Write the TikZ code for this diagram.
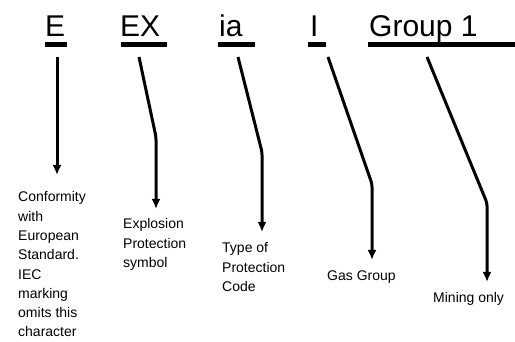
\documentclass[tikz,border=0pt]{standalone}
\usepackage{fontspec}
\setmainfont{Liberation Sans}
\usetikzlibrary{arrows.meta}
\begin{document}
\begin{tikzpicture}[x=1pt,y=-1pt,
  code/.style={anchor=base west,inner sep=0pt,font=\fontsize{30}{36}\selectfont},
  uline/.style={line width=5pt},
  conn/.style={line width=3pt,rounded corners=3pt,-{Latex[length=10pt,width=9pt]}},
  lbl/.style={anchor=north west,inner sep=0pt,align=left,font=\fontsize{14}{19.3}\selectfont}]
\useasboundingbox (0,0) rectangle (515,342);
% top codes
\node[code] (e) at (45,37) {E};
\node[code] (ex) at (120,37) {EX};
\node[code] (ia) at (219,37) {ia};
\node[code] (i) at (310,37) {I};
\node[code] (g) at (369,37) {Group 1};
\draw[uline] (45,45) -- (67,45);
\draw[uline] (121,45) -- (167,45);
\draw[uline] (218,45) -- (255,45);
\draw[uline] (308,45) -- (326,45);
\draw[uline] (368,45) -- (515,45);
% labels
\node[lbl] (l1) at (18,191.5) {Conformity\\with\\European\\Standard.\\IEC\\marking\\omits this\\character};
\node[lbl] (l2) at (123,218.5) {Explosion\\Protection\\symbol};
\node[lbl] (l3) at (222,242.5) {Type of\\Protection\\Code};
\node[lbl] (l4) at (327,270.5) {Gas Group};
\node[lbl] (l5) at (433,292.5) {Mining only};
% connector endpoints
\coordinate (s1) at (57,57);  \coordinate (t1) at (57,175);
\coordinate (s2) at (139,57); \coordinate (t2) at (156,209);
\coordinate (s3) at (238,57); \coordinate (t3) at (262,232);
\coordinate (s4) at (328,57); \coordinate (t4) at (372,260);
\coordinate (s5) at (427,57); \coordinate (t5) at (487,282);
\draw[conn] (s1) -- (t1);
\draw[conn] (s2) -- (156,137) -- (t2);
\draw[conn] (s3) -- (262,152) -- (t3);
\draw[conn] (s4) -- (372,184) -- (t4);
\draw[conn] (s5) -- (487,203) -- (t5);
\end{tikzpicture}
\end{document}
